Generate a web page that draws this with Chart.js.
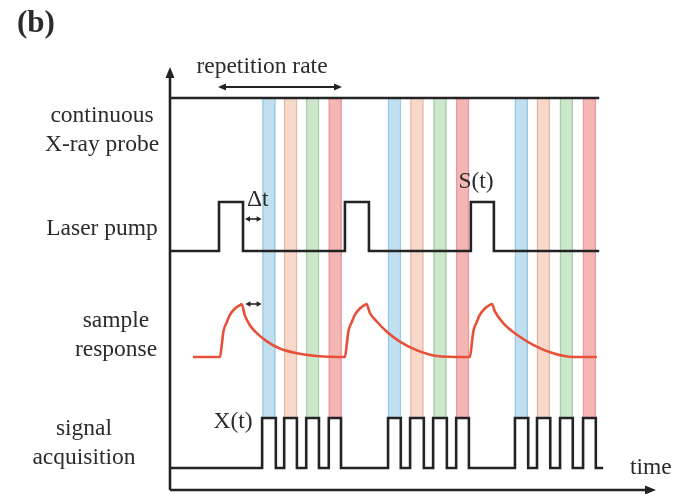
<!DOCTYPE html>
<html>
<head>
<meta charset="utf-8">
<script src="https://cdn.jsdelivr.net/npm/chart.js@4.4.1/dist/chart.umd.min.js"></script>
<style>
  html, body { margin: 0; padding: 0; background: #fff; }
  #wrap { width: 675px; height: 494px; position: relative; }
</style>
</head>
<body>
<div id="wrap"><canvas id="timing"></canvas></div>
<script>
// time runs in arbitrary units, 0..100 across the plot area

// continuous X-ray probe (always on)
const probeTimes = [0, 87.6];
const probeLevels = [1, 1];

// laser pump: edge times and the level held after each edge
const laserEdges = [0, 10.0, 14.9, 35.7, 40.6, 61.4, 66.1, 87.6];
const laserLevels = [0, 1, 0, 1, 0, 1, 0, 0];

// sample response S(t), normalised amplitude
const responseTimes = [
  4.7, 10.2, 10.6, 10.9, 11.6, 12.2, 13.3, 14.3, 14.6,
  15.3, 16.3, 17.7, 19.7, 22.4, 25.9, 29.9, 35.7,
  36.1, 36.4, 37.1, 37.7, 38.8, 39.7, 40.1,
  40.8, 42.2, 44.2, 46.9, 50.3, 54.4, 59.8, 61.2,
  61.6, 61.9, 62.6, 63.2, 64.3, 65.2, 65.7,
  66.3, 68.0, 70.8, 74.1, 78.2, 82.3, 87.1
];
const responseValues = [
  0, 0, 0.26, 0.48, 0.66, 0.79, 0.92, 0.98, 1.0,
  0.78, 0.6, 0.45, 0.3, 0.16, 0.07, 0.02, 0,
  0.26, 0.48, 0.66, 0.79, 0.92, 0.98, 1.0,
  0.83, 0.67, 0.48, 0.29, 0.13, 0.02, 0, 0,
  0.26, 0.48, 0.66, 0.79, 0.92, 0.98, 1.0,
  0.86, 0.64, 0.42, 0.23, 0.07, 0, 0
];

// signal acquisition X(t): edge times and level after each edge
const acqEdges = [
  0,
  18.8, 21.6, 23.3, 25.9, 27.8, 30.4, 32.4, 34.9,
  44.5, 47.1, 49.0, 51.8, 53.7, 56.5, 58.4, 61.0,
  70.4, 73.1, 74.9, 77.6, 79.6, 82.2, 84.3, 86.9,
  88.4
];
const acqLevels = [
  0,
  1, 0, 1, 0, 1, 0, 1, 0,
  1, 0, 1, 0, 1, 0, 1, 0,
  1, 0, 1, 0, 1, 0, 1, 0,
  0
];

// coloured probe windows (centre time, colour key)
const bandCenters = [20.2, 24.6, 29.1, 33.7, 45.8, 50.4, 55.1, 59.7, 71.7, 76.2, 80.9, 85.6];
const bandKinds = ['blue', 'peach', 'green', 'red', 'blue', 'peach', 'green', 'red', 'blue', 'peach', 'green', 'red'];

const trackLabels = [
  ['continuous', 'X-ray probe'],
  ['Laser pump'],
  ['sample', 'response'],
  ['signal', 'acquisition']
];

// ---- styling / placement ----
const AREA = { left: 170, right: 660, top: 67, bottom: 490 };
const INK = '#232323';
const TEXT = '#2b2b2b';
const SERIF = '"Liberation Serif", "DejaVu Serif", serif';

const bandFill = { blue: '#c0dff1', peach: '#f7d8c9', green: '#cde7cb', red: '#f4b5b5' };
const bandEdge = { blue: '#98c8e4', peach: '#e3b9a6', green: '#a6d0a3', red: '#e99b9b' };

// place a track so that level 0 sits at lowPx and level 1 at highPx
function trackRange(lowPx, highPx) {
  const unit = lowPx - highPx;
  const min = -(AREA.bottom - lowPx) / unit;
  return { min: min, max: min + (AREA.bottom - AREA.top) / unit };
}

function hiddenAxis(range) {
  return { type: 'linear', display: false, min: range.min, max: range.max };
}

const zip = (xs, ys) => xs.map((x, i) => ({ x: x, y: ys[i] }));

function arrowHead(ctx, x, y, dir, len, half) {
  // dir: 'up' | 'right' | 'left'
  ctx.beginPath();
  if (dir === 'up') {
    ctx.moveTo(x, y); ctx.lineTo(x - half, y + len); ctx.lineTo(x + half, y + len);
  } else if (dir === 'right') {
    ctx.moveTo(x, y); ctx.lineTo(x - len, y - half); ctx.lineTo(x - len, y + half);
  } else {
    ctx.moveTo(x, y); ctx.lineTo(x + len, y - half); ctx.lineTo(x + len, y + half);
  }
  ctx.closePath();
  ctx.fill();
}

function doubleArrow(ctx, x1, x2, y, len, half, lw) {
  ctx.lineWidth = lw;
  ctx.beginPath();
  ctx.moveTo(x1 + len - 1, y);
  ctx.lineTo(x2 - len + 1, y);
  ctx.stroke();
  arrowHead(ctx, x1, y, 'left', len, half);
  arrowHead(ctx, x2, y, 'right', len, half);
}

const decorations = {
  id: 'decorations',
  beforeDatasetsDraw(chart) {
    const { ctx, chartArea: a } = chart;
    ctx.save();
    ctx.strokeStyle = INK;
    ctx.fillStyle = INK;
    ctx.lineWidth = 2.6;
    // vertical axis
    ctx.beginPath();
    ctx.moveTo(a.left, a.bottom);
    ctx.lineTo(a.left, a.top + 8);
    ctx.stroke();
    arrowHead(ctx, a.left, a.top, 'up', 11, 4.5);
    // time axis
    ctx.beginPath();
    ctx.moveTo(a.left, a.bottom);
    ctx.lineTo(a.right - 12, a.bottom);
    ctx.stroke();
    arrowHead(ctx, a.right - 4, a.bottom, 'right', 11, 4.5);
    ctx.restore();
  },
  afterDatasetsDraw(chart) {
    const { ctx } = chart;
    const xs = chart.scales.x;
    ctx.save();
    ctx.strokeStyle = INK;
    ctx.fillStyle = INK;
    // repetition rate span
    doubleArrow(ctx, xs.getPixelForValue(9.8), xs.getPixelForValue(35.1), 87, 8, 3.5, 1.8);
    // delay markers
    doubleArrow(ctx, xs.getPixelForValue(15.3), xs.getPixelForValue(18.7), 219, 5, 2.8, 1.6);
    doubleArrow(ctx, xs.getPixelForValue(15.4), xs.getPixelForValue(18.7), 304, 5, 2.8, 1.6);

    ctx.fillStyle = TEXT;
    ctx.textBaseline = 'alphabetic';
    ctx.font = 'bold 31px ' + SERIF;
    ctx.textAlign = 'left';
    ctx.fillText('(b)', 17, 32);

    ctx.font = '23.5px ' + SERIF;
    ctx.textAlign = 'center';
    ctx.fillText('repetition rate', 262, 73);

    // track names
    const spots = [[102, 122], [102, 235], [116, 327], [84, 435]];
    trackLabels.forEach((lines, i) => {
      lines.forEach((s, j) => ctx.fillText(s, spots[i][0], spots[i][1] + j * 29));
    });

    ctx.fillText('S(t)', 476, 188);
    ctx.fillText('X(t)', 233, 428);
    ctx.textAlign = 'left';
    ctx.fillText('\u0394t', 247, 206);
    ctx.fillText('time', 630, 474);
    ctx.restore();
  }
};

const lineStyle = {
  type: 'line',
  borderColor: INK,
  borderWidth: 2.6,
  pointRadius: 0,
  fill: false
};

new Chart(document.getElementById('timing'), {
  type: 'line',
  data: {
    datasets: [
      Object.assign({}, lineStyle, {
        label: 'continuous X-ray probe',
        data: zip(probeTimes, probeLevels),
        yAxisID: 'yProbe',
        order: 1
      }),
      Object.assign({}, lineStyle, {
        label: 'Laser pump',
        data: zip(laserEdges, laserLevels),
        stepped: 'before',
        yAxisID: 'yLaser',
        order: 1
      }),
      Object.assign({}, lineStyle, {
        label: 'sample response',
        data: zip(responseTimes, responseValues),
        borderColor: '#e8503a',
        borderWidth: 2.6,
        cubicInterpolationMode: 'monotone',
        yAxisID: 'ySample',
        order: 1
      }),
      Object.assign({}, lineStyle, {
        label: 'signal acquisition',
        data: zip(acqEdges, acqLevels),
        stepped: 'before',
        yAxisID: 'yAcq',
        order: 1
      }),
      {
        type: 'bar',
        label: 'probe windows',
        data: bandCenters.map(c => ({ x: c, y: [0, 1] })),
        backgroundColor: bandKinds.map(k => bandFill[k]),
        borderColor: bandKinds.map(k => bandEdge[k]),
        borderWidth: { left: 1.5, right: 1.5, top: 0, bottom: 0 },
        borderSkipped: false,
        barThickness: 13,
        yAxisID: 'yBand',
        order: 10
      }
    ]
  },
  options: {
    responsive: true,
    maintainAspectRatio: false,
    animation: false,
    layout: {
      padding: { left: AREA.left, right: 675 - AREA.right, top: AREA.top, bottom: 494 - AREA.bottom }
    },
    plugins: {
      legend: { display: false },
      tooltip: { enabled: false }
    },
    scales: {
      x: { type: 'linear', display: false, min: 0, max: 100, offset: false },
      yProbe: hiddenAxis(trackRange(148, 98)),
      yLaser: hiddenAxis(trackRange(251, 202)),
      ySample: hiddenAxis(trackRange(357, 304)),
      yAcq: hiddenAxis(trackRange(468, 418)),
      yBand: hiddenAxis(trackRange(418, 98))
    }
  },
  plugins: [decorations]
});
</script>
</body>
</html>
